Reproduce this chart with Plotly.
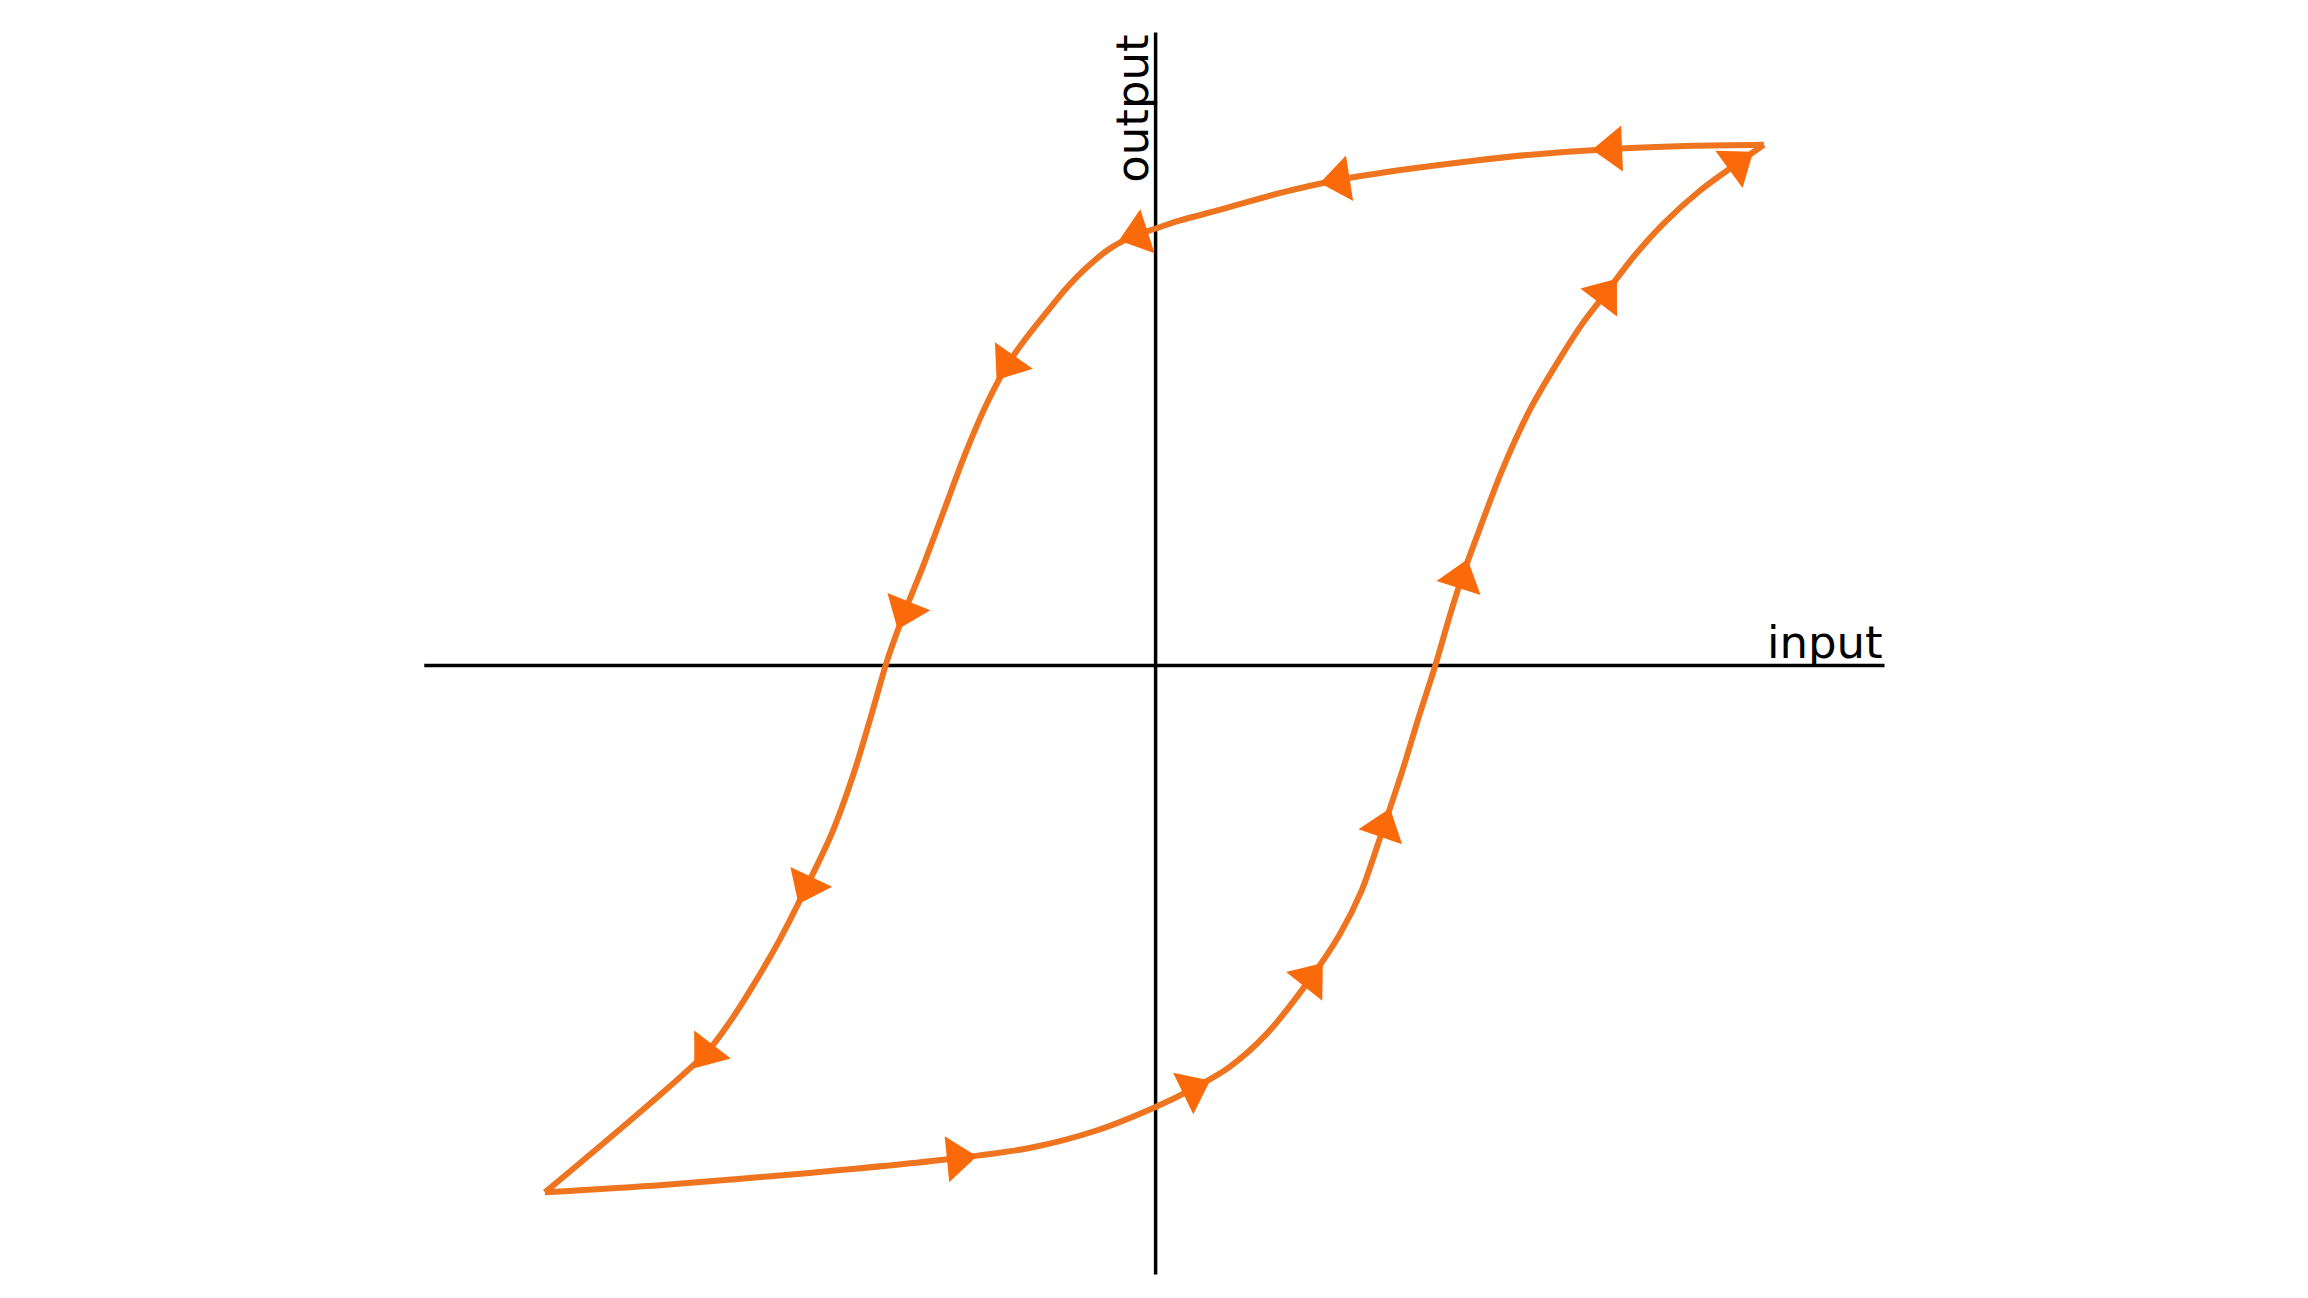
import plotly.graph_objects as go

# ---- data (input / output units; loop extremes at +-1) ----
upper_x = [0.998, 0.882, 0.749, 0.616, 0.519, 0.411, 0.302, 0.205, 0.109, 0.036, 0.0,
           -0.029, -0.072, -0.109, -0.145, -0.181, -0.213, -0.242, -0.278, -0.314, -0.350,
           -0.382, -0.411, -0.440, -0.466, -0.495, -0.531, -0.572, -0.616, -0.664, -0.700,
           -0.737, -1.002]
upper_y = [0.994, 0.992, 0.986, 0.975, 0.963, 0.947, 0.927, 0.902, 0.871, 0.848, 0.834,
           0.823, 0.798, 0.764, 0.722, 0.671, 0.624, 0.576, 0.497, 0.399, 0.287,
           0.188, 0.104, 0.011, -0.093, -0.205, -0.320, -0.421, -0.522, -0.618, -0.683,
           -0.739, -1.006]
upper_arrow = [0, 0, 1, 0, 0, 0, 1, 0, 0, 0, 0,
               1, 0, 0, 0, 0, 0, 1, 0, 0, 0,
               0, 1, 0, 0, 0, 0, 1, 0, 0, 0,
               1, 0]

lower_x = [-1.002, -0.809, -0.568, -0.326, -0.205, -0.097, 0.0, 0.060, 0.121, 0.181, 0.254,
           0.302, 0.338, 0.374, 0.406, 0.432, 0.459, 0.483, 0.502, 0.531, 0.568, 0.616,
           0.664, 0.700, 0.737, 0.785, 0.833, 0.894, 0.954, 0.998]
lower_y = [-1.006, -0.992, -0.969, -0.941, -0.921, -0.888, -0.843, -0.809, -0.767, -0.705, -0.598,
           -0.514, -0.430, -0.309, -0.197, -0.098, 0.0, 0.096, 0.166, 0.258, 0.371, 0.492,
           0.587, 0.652, 0.708, 0.781, 0.843, 0.907, 0.958, 0.994]
lower_arrow = [0, 0, 0, 1, 0, 0, 0, 1, 0, 0, 1,
               0, 0, 1, 0, 0, 0, 0, 1, 0, 0, 0,
               0, 0, 1, 0, 0, 0, 1, 0]

h_axis_x = [-1.200, 1.196]
v_axis_y = [-1.163, 1.208]
x_label = "input"
y_label = "output"

# ranges compensate for the 8px page margin of the html body
x_range = [-1.883, 1.904]
y_range = [-1.223, 1.255]

LINE = "#EE741F"
HEAD = "#FA6A0A"
ARROW_SIZE = 40

fig = go.Figure()

# axes drawn as black lines
fig.add_trace(go.Scatter(x=h_axis_x, y=[0, 0], mode="lines",
                         line=dict(color="black", width=3.5), hoverinfo="skip"))
fig.add_trace(go.Scatter(x=[0, 0], y=v_axis_y, mode="lines",
                         line=dict(color="black", width=3.5), hoverinfo="skip"))

for xs, ys, flags in [(upper_x, upper_y, upper_arrow), (lower_x, lower_y, lower_arrow)]:
    fig.add_trace(go.Scatter(
        x=xs, y=ys, mode="lines+markers",
        line=dict(color=LINE, width=6, shape="spline", smoothing=0.8),
        marker=dict(symbol="triangle-up", angleref="previous", opacity=1,
                    size=[ARROW_SIZE if f else 0 for f in flags],
                    color=HEAD, line=dict(width=0)),
        hoverinfo="skip"))

fig.add_annotation(x=h_axis_x[1], y=0, xref="x", yref="y", text=x_label,
                   showarrow=False, xanchor="right", yanchor="bottom",
                   font=dict(family="DejaVu Sans", size=45, color="black"),
                   yshift=-6)
fig.add_annotation(x=0, y=v_axis_y[1], xref="x", yref="y", text=y_label,
                   showarrow=False, xanchor="right", yanchor="top", textangle=-90,
                   font=dict(family="DejaVu Sans", size=45, color="black"),
                   xshift=6)

fig.update_layout(
    width=2308, height=1298,
    margin=dict(l=0, r=0, t=0, b=0),
    paper_bgcolor="white", plot_bgcolor="white",
    showlegend=False,
    xaxis=dict(range=x_range, visible=False, fixedrange=True),
    yaxis=dict(range=y_range, visible=False, fixedrange=True),
)

fig.write_html("out.html")
